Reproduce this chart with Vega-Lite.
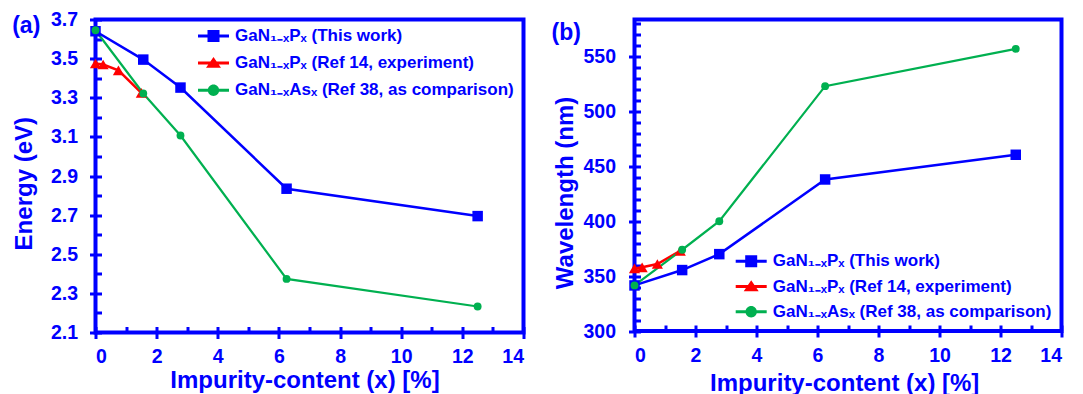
{
  "$schema": "https://vega.github.io/schema/vega-lite/v6.json",
  "background": "white",
  "padding": {"left": 9.5, "top": 7.5, "right": 5, "bottom": 2},
  "bounds": "flush",
  "spacing": 111,
  "resolve": {"scale": {"color": "independent", "shape": "independent"}},
  "datasets": {
    "energy": [
      {"series": "GaN₁₋ₓPₓ (This work)", "x": 0, "y": 3.64},
      {"series": "GaN₁₋ₓPₓ (This work)", "x": 1.5625, "y": 3.495},
      {"series": "GaN₁₋ₓPₓ (This work)", "x": 2.78, "y": 3.352},
      {"series": "GaN₁₋ₓPₓ (This work)", "x": 6.25, "y": 2.835},
      {"series": "GaN₁₋ₓPₓ (This work)", "x": 12.5, "y": 2.695},
      {"series": "GaN₁₋ₓPₓ (Ref 14, experiment)", "x": 0, "y": 3.475},
      {"series": "GaN₁₋ₓPₓ (Ref 14, experiment)", "x": 0.25, "y": 3.47},
      {"series": "GaN₁₋ₓPₓ (Ref 14, experiment)", "x": 0.75, "y": 3.44},
      {"series": "GaN₁₋ₓPₓ (Ref 14, experiment)", "x": 1.5, "y": 3.325},
      {"series": "GaN₁₋ₓAsₓ (Ref 38, as comparison)", "x": 0, "y": 3.645},
      {"series": "GaN₁₋ₓAsₓ (Ref 38, as comparison)", "x": 1.5625, "y": 3.322},
      {"series": "GaN₁₋ₓAsₓ (Ref 38, as comparison)", "x": 2.78, "y": 3.107},
      {"series": "GaN₁₋ₓAsₓ (Ref 38, as comparison)", "x": 6.25, "y": 2.374},
      {"series": "GaN₁₋ₓAsₓ (Ref 38, as comparison)", "x": 12.5, "y": 2.233}
    ],
    "wavelength": [
      {"series": "GaN₁₋ₓPₓ (This work)", "x": 0, "y": 341.5},
      {"series": "GaN₁₋ₓPₓ (This work)", "x": 1.5625, "y": 355.5},
      {"series": "GaN₁₋ₓPₓ (This work)", "x": 2.78, "y": 370},
      {"series": "GaN₁₋ₓPₓ (This work)", "x": 6.25, "y": 438},
      {"series": "GaN₁₋ₓPₓ (This work)", "x": 12.5, "y": 460.5},
      {"series": "GaN₁₋ₓPₓ (Ref 14, experiment)", "x": 0, "y": 357},
      {"series": "GaN₁₋ₓPₓ (Ref 14, experiment)", "x": 0.25, "y": 358},
      {"series": "GaN₁₋ₓPₓ (Ref 14, experiment)", "x": 0.75, "y": 361},
      {"series": "GaN₁₋ₓPₓ (Ref 14, experiment)", "x": 1.5, "y": 373},
      {"series": "GaN₁₋ₓAsₓ (Ref 38, as comparison)", "x": 0, "y": 341.5},
      {"series": "GaN₁₋ₓAsₓ (Ref 38, as comparison)", "x": 1.5625, "y": 374},
      {"series": "GaN₁₋ₓAsₓ (Ref 38, as comparison)", "x": 2.78, "y": 400},
      {"series": "GaN₁₋ₓAsₓ (Ref 38, as comparison)", "x": 6.25, "y": 523},
      {"series": "GaN₁₋ₓAsₓ (Ref 38, as comparison)", "x": 12.5, "y": 557}
    ]
  },
  "config": {
    "view": {"stroke": "#0000ff", "strokeWidth": 4},
    "font": "Liberation Sans",
    "axis": {
      "domain": false,
      "grid": false,
      "tickColor": "#0000ff",
      "tickWidth": 3,
      "labelColor": "#0000ff",
      "labelFont": "Liberation Sans",
      "labelFontWeight": "bold",
      "labelFontSize": 19.5,
      "titleColor": "#0000ff",
      "titleFont": "Liberation Sans",
      "titleFontWeight": "bold",
      "titleFontSize": 24
    },
    "legend": {
      "title": null,
      "padding": 0,
      "symbolSize": 400,
      "symbolStrokeWidth": 0,
      "symbolOpacity": 1,
      "labelFont": "Liberation Sans",
      "labelFontWeight": "bold",
      "labelFontSize": 17,
      "labelColor": "#0000ff",
      "labelLimit": 500,
      "labelOffset": 11.5
    },
    "title": {
      "font": "Liberation Sans",
      "fontSize": 23,
      "fontWeight": "bold",
      "color": "#0000ff",
      "anchor": "start",
      "frame": "group",
      "offset": 0,
      "baseline": "middle"
    }
  },
  "hconcat": [
    {
      "width": 428,
      "height": 313,
      "title": {"text": "(a)", "dx": -83.3, "dy": 32},
      "data": {"name": "energy"},
      "layer": [
        {
          "transform": [{"filter": {"field": "series", "equal": "GaN₁₋ₓPₓ (This work)"}}],
          "mark": {"type": "line", "strokeWidth": 2.5, "color": "#0000ff"},
          "encoding": {
            "x": {"field": "x", "type": "quantitative",
              "scale": {"domain": [0, 14], "nice": false, "zero": false},
              "axis": {"orient": "bottom", "values": [0, 2, 4, 6, 8, 10, 12, 14], "format": "d", "tickSize": 6, "labelBaseline": "middle", "labelPadding": 18,
                "title": "Impurity-content (x) [%]", "titleX": 209, "titleY": 48, "titleBaseline": "middle"}},
            "y": {"field": "y", "type": "quantitative",
              "scale": {"domain": [2.1, 3.7], "nice": false, "zero": false},
              "axis": {"orient": "left", "values": [2.1, 2.3, 2.5, 2.7, 2.9, 3.1, 3.3, 3.5, 3.7], "format": ".1f", "tickSize": 6, "labelPadding": 12,
                "title": "Energy (eV)", "titleX": -71, "titleY": 163.7, "titleBaseline": "middle", "titleAlign": "center"}}
          }
        },
        {
          "transform": [{"filter": {"field": "series", "equal": "GaN₁₋ₓPₓ (Ref 14, experiment)"}}],
          "mark": {"type": "line", "strokeWidth": 2.5, "color": "#ff0000"},
          "encoding": {
            "x": {"field": "x", "type": "quantitative", "scale": {"domain": [0, 14], "nice": false, "zero": false}, "axis": null},
            "y": {"field": "y", "type": "quantitative", "scale": {"domain": [2.1, 3.7], "nice": false, "zero": false}, "axis": null}
          }
        },
        {
          "transform": [{"filter": {"field": "series", "equal": "GaN₁₋ₓAsₓ (Ref 38, as comparison)"}}],
          "mark": {"type": "line", "strokeWidth": 2.2, "color": "#00b050"},
          "encoding": {
            "x": {"field": "x", "type": "quantitative", "scale": {"domain": [0, 14], "nice": false, "zero": false}, "axis": null},
            "y": {"field": "y", "type": "quantitative", "scale": {"domain": [2.1, 3.7], "nice": false, "zero": false}, "axis": null}
          }
        },
        {
          "transform": [{"filter": {"field": "series", "equal": "GaN₁₋ₓPₓ (This work)"}}],
          "mark": {"type": "point", "filled": true, "opacity": 1, "shape": "square", "size": 110, "color": "#0000ff"},
          "encoding": {
            "x": {"field": "x", "type": "quantitative",
              "scale": {"domain": [0, 14], "nice": false, "zero": false},
              "axis": {"orient": "bottom", "values": [0, 1, 2, 3, 4, 5, 6, 7, 8, 9, 10, 11, 12, 13, 14], "tickSize": -6, "labels": false, "title": null}},
            "y": {"field": "y", "type": "quantitative",
              "scale": {"domain": [2.1, 3.7], "nice": false, "zero": false},
              "axis": {"orient": "left", "values": [2.1, 2.2, 2.3, 2.4, 2.5, 2.6, 2.7, 2.8, 2.9, 3.0, 3.1, 3.2, 3.3, 3.4, 3.5, 3.6, 3.7], "tickSize": -6, "labels": false, "title": null}}
          }
        },
        {
          "transform": [{"filter": {"field": "series", "equal": "GaN₁₋ₓPₓ (Ref 14, experiment)"}}],
          "mark": {"type": "point", "filled": true, "opacity": 1, "shape": "triangle-up", "size": 125, "color": "#ff0000"},
          "encoding": {
            "x": {"field": "x", "type": "quantitative", "scale": {"domain": [0, 14], "nice": false, "zero": false}, "axis": null},
            "y": {"field": "y", "type": "quantitative", "scale": {"domain": [2.1, 3.7], "nice": false, "zero": false}, "axis": null}
          }
        },
        {
          "transform": [{"filter": {"field": "series", "equal": "GaN₁₋ₓAsₓ (Ref 38, as comparison)"}}],
          "mark": {"type": "point", "filled": true, "opacity": 1, "shape": "circle", "size": 62, "color": "#00b050"},
          "encoding": {
            "x": {"field": "x", "type": "quantitative", "scale": {"domain": [0, 14], "nice": false, "zero": false}, "axis": null},
            "y": {"field": "y", "type": "quantitative", "scale": {"domain": [2.1, 3.7], "nice": false, "zero": false}, "axis": null}
          }
        },
        {
          "mark": {"type": "point", "filled": true, "opacity": 0, "size": 400},
          "encoding": {
            "x": {"field": "x", "type": "quantitative", "scale": {"domain": [0, 14], "nice": false, "zero": false}, "axis": null},
            "y": {"field": "y", "type": "quantitative", "scale": {"domain": [2.1, 3.7], "nice": false, "zero": false}, "axis": null},
            "color": {"field": "series", "type": "nominal",
              "scale": {"domain": ["GaN₁₋ₓPₓ (This work)", "GaN₁₋ₓPₓ (Ref 14, experiment)", "GaN₁₋ₓAsₓ (Ref 38, as comparison)"], "range": ["#0000ff", "#ff0000", "#00b050"]},
              "legend": {"orient": "none", "legendX": 108, "legendY": 6.4, "rowPadding": 9.2}},
            "shape": {"field": "series", "type": "nominal",
              "scale": {"domain": ["GaN₁₋ₓPₓ (This work)", "GaN₁₋ₓPₓ (Ref 14, experiment)", "GaN₁₋ₓAsₓ (Ref 38, as comparison)"],
                "range": ["M-1.55,-0.15H1.55V0.15H-1.55Z M-0.6,-0.6H0.6V0.6H-0.6Z", "M-1.55,-0.15H1.55V0.15H-1.55Z M0,-0.62L0.75,0.47H-0.75Z", "M-1.55,-0.15H1.55V0.15H-1.55Z M-0.57,0A0.57,0.57 0 1,1 0.57,0A0.57,0.57 0 1,1 -0.57,0Z"]},
              "legend": {"orient": "none", "legendX": 108, "legendY": 6.4, "rowPadding": 9.2}}
          }
        }
      ],
      "resolve": {"scale": {"x": "independent", "y": "independent"}}
    },
    {
      "width": 427,
      "height": 311.5,
      "title": {"text": "(b)", "dx": -83, "dy": 29},
      "data": {"name": "wavelength"},
      "layer": [
        {
          "transform": [{"filter": {"field": "series", "equal": "GaN₁₋ₓPₓ (This work)"}}],
          "mark": {"type": "line", "strokeWidth": 2.5, "color": "#0000ff"},
          "encoding": {
            "x": {"field": "x", "type": "quantitative",
              "scale": {"domain": [0, 14], "nice": false, "zero": false},
              "axis": {"orient": "bottom", "values": [0, 2, 4, 6, 8, 10, 12, 14], "format": "d", "tickSize": 6, "labelBaseline": "middle", "labelPadding": 18.5,
                "title": "Impurity-content (x) [%]", "titleX": 209.7, "titleY": 52, "titleBaseline": "middle"}},
            "y": {"field": "y", "type": "quantitative",
              "scale": {"domain": [300, 583.7], "nice": false, "zero": false},
              "axis": {"orient": "left", "values": [300, 350, 400, 450, 500, 550], "format": "d", "tickSize": 6, "labelPadding": 13,
                "title": "Wavelength (nm)", "titleX": -69, "titleY": 173, "titleBaseline": "middle", "titleAlign": "center"}}
          }
        },
        {
          "transform": [{"filter": {"field": "series", "equal": "GaN₁₋ₓPₓ (Ref 14, experiment)"}}],
          "mark": {"type": "line", "strokeWidth": 2.5, "color": "#ff0000"},
          "encoding": {
            "x": {"field": "x", "type": "quantitative", "scale": {"domain": [0, 14], "nice": false, "zero": false}, "axis": null},
            "y": {"field": "y", "type": "quantitative", "scale": {"domain": [300, 583.7], "nice": false, "zero": false}, "axis": null}
          }
        },
        {
          "transform": [{"filter": {"field": "series", "equal": "GaN₁₋ₓAsₓ (Ref 38, as comparison)"}}],
          "mark": {"type": "line", "strokeWidth": 2.2, "color": "#00b050"},
          "encoding": {
            "x": {"field": "x", "type": "quantitative", "scale": {"domain": [0, 14], "nice": false, "zero": false}, "axis": null},
            "y": {"field": "y", "type": "quantitative", "scale": {"domain": [300, 583.7], "nice": false, "zero": false}, "axis": null}
          }
        },
        {
          "transform": [{"filter": {"field": "series", "equal": "GaN₁₋ₓPₓ (This work)"}}],
          "mark": {"type": "point", "filled": true, "opacity": 1, "shape": "square", "size": 110, "color": "#0000ff"},
          "encoding": {
            "x": {"field": "x", "type": "quantitative",
              "scale": {"domain": [0, 14], "nice": false, "zero": false},
              "axis": {"orient": "bottom", "values": [0, 1, 2, 3, 4, 5, 6, 7, 8, 9, 10, 11, 12, 13, 14], "tickSize": -6, "labels": false, "title": null}},
            "y": {"field": "y", "type": "quantitative",
              "scale": {"domain": [300, 583.7], "nice": false, "zero": false},
              "axis": {"orient": "left", "values": [300, 310, 320, 330, 340, 350, 360, 370, 380, 390, 400, 410, 420, 430, 440, 450, 460, 470, 480, 490, 500, 510, 520, 530, 540, 550, 560, 570, 580], "tickSize": -6, "labels": false, "title": null}}
          }
        },
        {
          "transform": [{"filter": {"field": "series", "equal": "GaN₁₋ₓPₓ (Ref 14, experiment)"}}],
          "mark": {"type": "point", "filled": true, "opacity": 1, "shape": "triangle-up", "size": 125, "color": "#ff0000"},
          "encoding": {
            "x": {"field": "x", "type": "quantitative", "scale": {"domain": [0, 14], "nice": false, "zero": false}, "axis": null},
            "y": {"field": "y", "type": "quantitative", "scale": {"domain": [300, 583.7], "nice": false, "zero": false}, "axis": null}
          }
        },
        {
          "transform": [{"filter": {"field": "series", "equal": "GaN₁₋ₓAsₓ (Ref 38, as comparison)"}}],
          "mark": {"type": "point", "filled": true, "opacity": 1, "shape": "circle", "size": 62, "color": "#00b050"},
          "encoding": {
            "x": {"field": "x", "type": "quantitative", "scale": {"domain": [0, 14], "nice": false, "zero": false}, "axis": null},
            "y": {"field": "y", "type": "quantitative", "scale": {"domain": [300, 583.7], "nice": false, "zero": false}, "axis": null}
          }
        },
        {
          "mark": {"type": "point", "filled": true, "opacity": 0, "size": 400},
          "encoding": {
            "x": {"field": "x", "type": "quantitative", "scale": {"domain": [0, 14], "nice": false, "zero": false}, "axis": null},
            "y": {"field": "y", "type": "quantitative", "scale": {"domain": [300, 583.7], "nice": false, "zero": false}, "axis": null},
            "color": {"field": "series", "type": "nominal",
              "scale": {"domain": ["GaN₁₋ₓPₓ (This work)", "GaN₁₋ₓPₓ (Ref 14, experiment)", "GaN₁₋ₓAsₓ (Ref 38, as comparison)"], "range": ["#0000ff", "#ff0000", "#00b050"]},
              "legend": {"orient": "none", "legendX": 106.7, "legendY": 231.7, "rowPadding": 7.3}},
            "shape": {"field": "series", "type": "nominal",
              "scale": {"domain": ["GaN₁₋ₓPₓ (This work)", "GaN₁₋ₓPₓ (Ref 14, experiment)", "GaN₁₋ₓAsₓ (Ref 38, as comparison)"],
                "range": ["M-1.55,-0.15H1.55V0.15H-1.55Z M-0.6,-0.6H0.6V0.6H-0.6Z", "M-1.55,-0.15H1.55V0.15H-1.55Z M0,-0.62L0.75,0.47H-0.75Z", "M-1.55,-0.15H1.55V0.15H-1.55Z M-0.57,0A0.57,0.57 0 1,1 0.57,0A0.57,0.57 0 1,1 -0.57,0Z"]},
              "legend": {"orient": "none", "legendX": 106.7, "legendY": 231.7, "rowPadding": 7.3}}
          }
        }
      ],
      "resolve": {"scale": {"x": "independent", "y": "independent"}}
    }
  ]
}
